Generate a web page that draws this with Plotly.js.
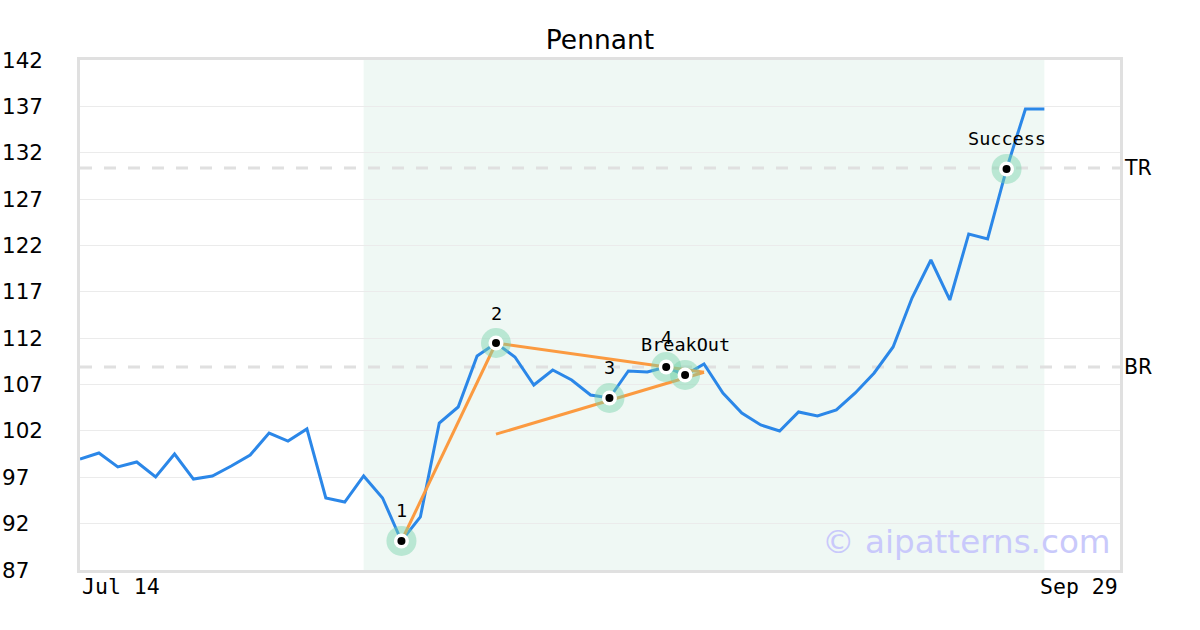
<!DOCTYPE html>
<html>
<head>
<meta charset="utf-8">
<script src="https://cdn.plot.ly/plotly-3.0.1.min.js"></script>
<style>html,body{margin:0;padding:0;background:#fff;}#chart{width:1200px;height:630px;}</style>
</head>
<body>
<div id="chart"></div>
<script>
// ---- data ----
const priceIdx = [0,1,2,3,4,5,6,7,8,9,10,11,12,13,14,15,16,17,18,19,20,21,22,23,24,25,26,27,28,29,30,31,32,33,34,35,36,37,38,39,40,41,42,43,44,45,46,47,48,49,50,51];
const priceVals = [98.97,99.62,98.11,98.65,97.03,99.51,96.81,97.14,98.22,99.40,101.77,100.91,102.21,94.77,94.33,97.14,94.77,90.13,92.72,102.85,104.58,110.08,111.48,109.97,106.95,108.57,107.49,105.87,105.55,108.46,108.35,108.89,108.03,109.22,106.09,103.93,102.64,101.99,104.04,103.61,104.26,106.09,108.25,111.05,116.33,120.43,116.12,123.24,122.70,130.25,136.72,136.72];
const pivotIdx = [17,22,28,31,32,49];
const pivotVals = [90.13,111.48,105.55,108.89,108.03,130.25];
const pivotLabels = ['1','2','3','4','BreakOut','Success'];
const legAIdx = [17,22];            // 1 -> 2
const legAVals = [90.13,111.48];
const upperIdx = [22,33];           // upper pennant line
const upperVals = [111.48,108.32];
const lowerIdx = [22,33];           // lower pennant line
const lowerVals = [101.65,108.32];
const patternStart = 15, patternEnd = 51;
const levelTR = 130.35, levelBR = 108.89;
const yTicks = [87,92,97,102,107,112,117,122,127,132,137,142];
const xTickIdx = [0,55];
const xTickLabels = ['Jul 14','Sep 29'];
const xRange = [0,55];
const yRange = [87,142];

// ---- traces ----
const traces = [
  {x: priceIdx, y: priceVals, mode:'lines', line:{color:'#2b87e8', width:3}, hoverinfo:'skip'},
  {x: legAIdx, y: legAVals, mode:'lines', line:{color:'#fb9a40', width:3}, hoverinfo:'skip'},
  {x: upperIdx, y: upperVals, mode:'lines', line:{color:'#fb9a40', width:3}, hoverinfo:'skip'},
  {x: lowerIdx, y: lowerVals, mode:'lines', line:{color:'#fb9a40', width:3}, hoverinfo:'skip'},
  {x: pivotIdx, y: pivotVals, mode:'markers', marker:{size:30, color:'rgba(120,210,170,0.45)'}, hoverinfo:'skip'},
  {x: pivotIdx, y: pivotVals, mode:'markers', marker:{size:15, color:'#ffffff'}, hoverinfo:'skip'},
  {x: pivotIdx, y: pivotVals, mode:'markers', marker:{size:8, color:'#000000'}, hoverinfo:'skip'}
];

const mono = 'DejaVu Sans Mono, monospace';
const sans = 'DejaVu Sans, sans-serif';

const annotations = [];
pivotIdx.forEach((xi,i)=>{
  annotations.push({x: xi, y: pivotVals[i], xref:'x', yref:'y', text: pivotLabels[i], showarrow:false,
    yshift: 30, font:{family: mono, size:18.5, color:'#000'}});
});
yTicks.forEach(v=>{
  annotations.push({x: -0.0765, y: v, xref:'paper', yref:'y', text: String(v), showarrow:false,
    xanchor:'left', yanchor:'middle', font:{family: sans, size:21.5, color:'#000'}});
});
xTickIdx.forEach((xi,i)=>{
  annotations.push({x: xi, y: -0.033, xref:'x', yref:'paper', text: xTickLabels[i], showarrow:false,
    xanchor: i===0 ? 'left' : 'right', yanchor:'middle', font:{family: mono, size:21.5, color:'#000'}});
});
annotations.push({x: 1.002, y: levelTR, xref:'paper', yref:'y', text:'TR', showarrow:false, xanchor:'left', yanchor:'middle', font:{family: sans, size:20.5, color:'#000'}});
annotations.push({x: 1.002, y: levelBR, xref:'paper', yref:'y', text:'BR', showarrow:false, xanchor:'left', yanchor:'middle', font:{family: sans, size:20.5, color:'#000'}});
annotations.push({x: 0.9935, y: 0.055, xref:'paper', yref:'paper', text:'© aipatterns.com', showarrow:false, xanchor:'right', yanchor:'middle', font:{family: sans, size:32.6, color:'#c9c9fb'}});

const shapes = [
  {type:'rect', xref:'x', yref:'paper', x0: patternStart, x1: patternEnd, y0:0, y1:1, fillcolor:'#eff8f4', line:{width:0}, layer:'below'},
  {type:'line', xref:'paper', yref:'y', x0:0, x1:1, y0: levelTR, y1: levelTR, line:{color:'#e0e0e0', width:3, dash:'12px,12px'}, layer:'below'},
  {type:'line', xref:'paper', yref:'y', x0:0, x1:1, y0: levelBR, y1: levelBR, line:{color:'#e0e0e0', width:3, dash:'12px,12px'}, layer:'below'}
];

const layout = {
  width:1200, height:630,
  margin:{l:80, r:80, t:60, b:60},
  paper_bgcolor:'#ffffff', plot_bgcolor:'#ffffff',
  showlegend:false,
  title:{text:'Pennant', x:0.5, xanchor:'center', y:0.9365, yanchor:'middle', font:{family: sans, size:26.5, color:'#000'}},
  xaxis:{range: xRange, showgrid:false, zeroline:false, showticklabels:false, ticks:'', showline:true, linecolor:'#e0e0e0', linewidth:3, mirror:true, fixedrange:true},
  yaxis:{range: yRange, tickvals: yTicks, showgrid:true, gridcolor:'#ebebeb', gridwidth:1, zeroline:false, showticklabels:false, ticks:'', showline:true, linecolor:'#e0e0e0', linewidth:3, mirror:true, fixedrange:true},
  shapes: shapes,
  annotations: annotations,
  hovermode:false
};

Plotly.newPlot('chart', traces, layout, {displayModeBar:false, staticPlot:true});
</script>
</body>
</html>
